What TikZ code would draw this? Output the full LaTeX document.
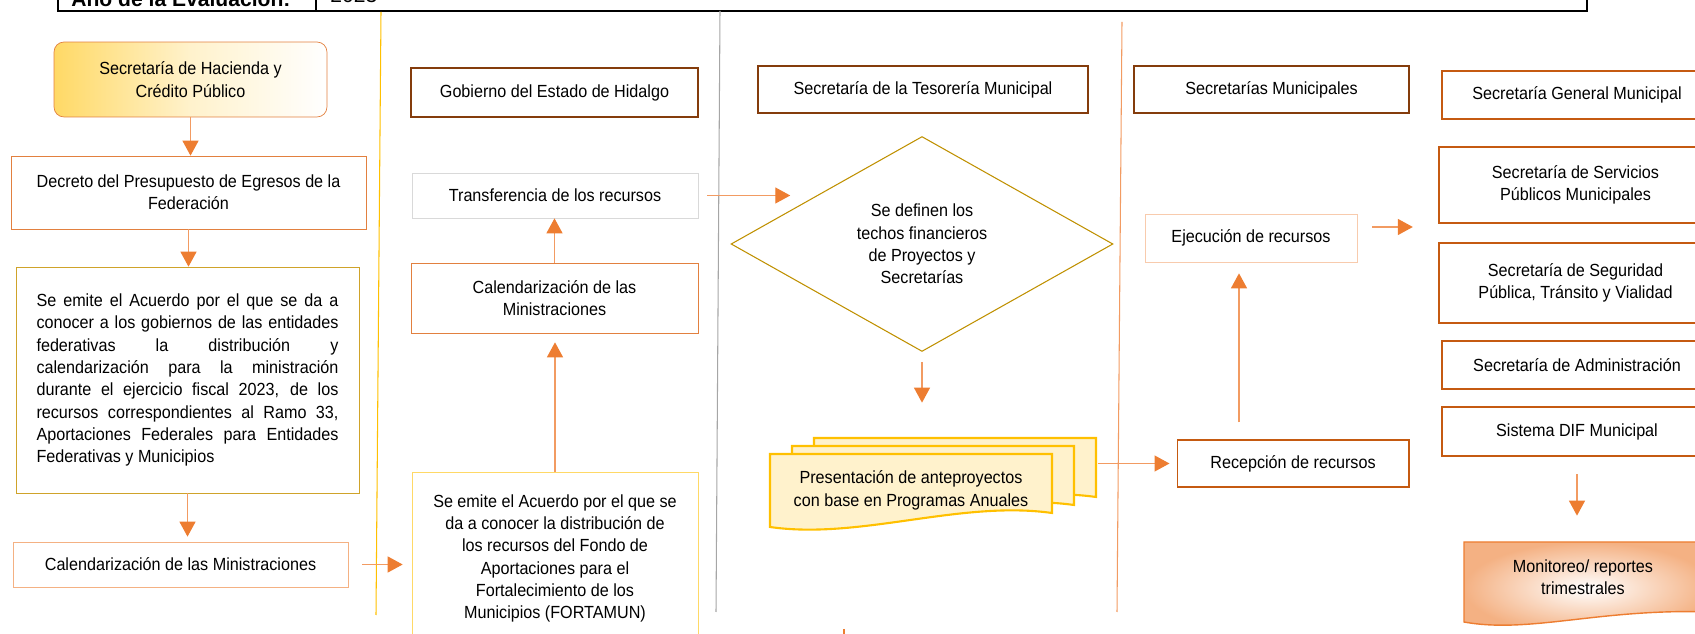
\documentclass[tikz,border=0pt]{standalone}
\usepackage{fontspec}
\setmainfont{Liberation Sans}[FakeStretch=0.92]
\newfontfamily\hdrfont{Liberation Sans}
\usetikzlibrary{arrows.meta,shapes.geometric}
\definecolor{arrhead}{HTML}{ED7D31}
\definecolor{arrline}{HTML}{F29B62}
\definecolor{brownb}{HTML}{843C0C}
\definecolor{orangeb}{HTML}{C55A11}
\definecolor{orangem}{HTML}{E2803F}
\definecolor{orangel}{HTML}{F4B183}
\definecolor{orangexl}{HTML}{F8CBAD}
\definecolor{goldb}{HTML}{BF9000}
\definecolor{goldm}{HTML}{CFA32A}
\definecolor{yellowb}{HTML}{FFC000}
\definecolor{yellowl}{HTML}{FFD966}
\definecolor{yellowf}{HTML}{FFF2CC}
\definecolor{grayb}{HTML}{D9D9D9}
\definecolor{grayl}{HTML}{A6A6A6}

\begin{document}
\begin{tikzpicture}[x=0.02cm,y=-0.02cm,
  every node/.style={font=\fontsize{10}{12.7}\selectfont},
  box/.style={draw,inner sep=0pt,align=center},
  hdr/.style={box,draw=brownb,line width=1.5pt},
  sec/.style={box,draw=orangeb,line width=1.35pt},
  arr/.style={draw=arrline,line width=0.75pt,-{Triangle[width=0.32cm,length=0.3cm,color=arrhead]}}]
\useasboundingbox (0,0) rectangle (1695,634);
\clip (0,0) rectangle (1695,634);

\draw[line width=1.2pt] (58,-5) -- (58,11) -- (1587,11) -- (1587,-5);
\draw[line width=1pt] (316,-5) -- (316,11);
\node[anchor=base west,inner sep=0pt,font=\hdrfont\fontsize{12}{14}\selectfont\bfseries] (ano) at (71,7) {Año de la Evaluación:};
\node[anchor=base west,inner sep=0pt,font=\hdrfont\fontsize{12}{14}\selectfont] (anio) at (330,3) {2023};

\draw[yellowb,line width=0.6pt] (381,12) -- (376,615);
\draw[grayl,line width=0.6pt] (720,11) -- (716,612);
\draw[arrline,line width=0.6pt] (1122,22) -- (1117,612);
\draw[arrhead,line width=1.2pt] (844,629) -- (844,640);

\node[box,draw=orangem,rounded corners=0.2cm,left color=yellowl,right color=white,middle color=yellowf,minimum width=5.46cm,minimum height=1.5cm] (hac) at (190.5,79.5) {Secretaría de Hacienda y\\Crédito Público};
\node[box,draw=orangem,minimum width=7.1cm,minimum height=1.46cm] (dec) at (188.5,192.5) {Decreto del Presupuesto de Egresos de la\\Federación};
\node[box,draw=goldm,minimum width=6.86cm,minimum height=4.52cm,text width=6.04cm,align=justify] (acu) at (187.5,380) {\hyphenpenalty=10000
Se emite el Acuerdo por el que se da a\linebreak
conocer a los gobiernos de las entidades\linebreak
federativas la distribución y\linebreak
calendarización para la ministración\linebreak
durante el ejercicio fiscal 2023, de los\linebreak
recursos correspondientes al Ramo 33,\linebreak
Aportaciones Federales para Entidades\linebreak
Federativas y Municipios};
\node[box,draw=orangel,minimum width=6.7cm,minimum height=0.9cm] (cal1) at (180.5,564.5) {Calendarización de las Ministraciones};

\node[hdr,minimum width=5.74cm,minimum height=0.98cm] (gob) at (554.5,92.5) {Gobierno del Estado de Hidalgo};
\node[box,draw=grayb,minimum width=5.72cm,minimum height=0.9cm] (tra) at (555,195.5) {Transferencia de los recursos};
\node[box,draw=orangem,minimum width=5.74cm,minimum height=1.4cm] (cal2) at (554.5,298) {Calendarización de las\\Ministraciones};
\node[box,draw=yellowl,minimum width=5.72cm,minimum height=3.46cm] (fort) at (555,558.5) {Se emite el Acuerdo por el que se\\da a conocer la distribución de\\los recursos del Fondo de\\Aportaciones para el\\Fortalecimiento de los\\Municipios (FORTAMUN)};

\node[hdr,minimum width=6.6cm,minimum height=0.94cm] (tes) at (923,89.5) {Secretaría de la Tesorería Municipal};
\node[diamond,draw=goldb,line width=0.6pt,inner sep=0pt,align=center,minimum width=7.64cm,minimum height=4.3cm] (dia) at (922,244) {Se definen los\\techos financieros\\de Proyectos y\\Secretarías};
\foreach \d in {2,1,0}
  \draw[draw=yellowb,fill=yellowf,line width=1.2pt,shift={(22*\d,-8*\d)}]
    (770,527) -- (770,454) -- (1052,454) -- (1052,513) .. controls (960,500) and (860,540) .. (770,527) -- cycle;
\node[inner sep=0pt,align=center,minimum width=5.64cm,minimum height=1.46cm] (pre) at (911,490.5) {Presentación de anteproyectos\\con base en Programas Anuales};

\node[hdr,minimum width=5.5cm,minimum height=0.94cm] (mun) at (1271.5,89.5) {Secretarías Municipales};
\node[box,draw=orangexl,minimum width=4.24cm,minimum height=0.96cm] (eje) at (1251,238) {Ejecución de recursos};
\node[box,draw=orangeb,line width=0.6pt,minimum width=4.64cm,minimum height=0.94cm] (rec) at (1293,463.5) {Recepción de recursos};

\node[sec,minimum width=5.4cm,minimum height=0.96cm] (gen) at (1577,95) {Secretaría General Municipal};
\node[sec,minimum width=5.46cm,minimum height=1.52cm] (ser) at (1575.5,185) {Secretaría de Servicios\\Públicos Municipales};
\node[sec,minimum width=5.46cm,minimum height=1.6cm] (seg) at (1575.5,283) {Secretaría de Seguridad\\Pública, Tránsito y Vialidad};
\node[sec,minimum width=5.4cm,minimum height=0.96cm] (adm) at (1577,365) {Secretaría de Administración};
\node[sec,minimum width=5.4cm,minimum height=0.98cm] (dif) at (1577,431.5) {Sistema DIF Municipal};
\shadedraw[draw=arrhead,line width=0.8pt,inner color=white,outer color=orangel]
  (1464,542) -- (1712,542) -- (1712,612) .. controls (1600,608) and (1530,634) .. (1464,622) -- cycle;
\node[inner sep=0pt,align=center,minimum width=4.76cm,minimum height=1.4cm] (mon) at (1583,577) {Monitoreo/ reportes\\trimestrales};

\draw[arr] (hac.south) -- (hac.south |- dec.north);
\draw[arr] (dec.south) -- (dec.south |- acu.north);
\draw[arr,shorten >=0.1cm] (acu.south) -- (acu.south |- cal1.north);
\draw[arr,shorten <=0.28cm,shorten >=0.18cm] (cal1.east) -- (cal1.east -| fort.west);
\draw[arr,shorten >=0.18cm] (fort.north) -- (fort.north |- cal2.south);
\draw[arr] (cal2.north) -- (cal2.north |- tra.south);
\draw[arr,shorten <=0.18cm,shorten >=0.72cm] (tra.east) -- (tra.east -| dia.north west);
\draw[arr,shorten <=0.2cm,shorten >=1.02cm] (dia.south) -- (dia.south |- pre.north);
\draw[arr,shorten <=0.92cm,shorten >=0.14cm] (rec.west -| pre.east) -- (rec.west);
\draw[arr,shorten <=0.34cm,shorten >=0.22cm] ([xshift=-0.24cm]eje.south |- rec.north) -- ([xshift=-0.24cm]eje.south);
\draw[arr,shorten <=0.3cm,shorten >=0.5cm] ([yshift=0.22cm]eje.east) -- ([yshift=0.22cm]eje.east -| ser.west);
\draw[arr,shorten <=0.34cm,shorten >=0.52cm] (dif.south) -- (dif.south |- mon.north);
\end{tikzpicture}
\end{document}
